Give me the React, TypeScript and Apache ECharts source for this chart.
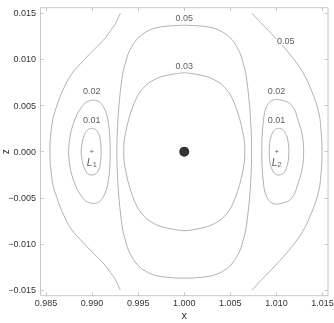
import React, { useEffect, useRef } from "react";
import * as echarts from "echarts";

// Axis ranges and tick labels
const xRange = [0.9844, 1.0156];
const zRange = [-0.0156, 0.0156];
const xTicks = [0.985, 0.99, 0.995, 1.0, 1.005, 1.01, 1.015];
const zTicks = [-0.015, -0.01, -0.005, 0, 0.005, 0.01, 0.015];

// Contour 0.03 (closed around the body)
const c003X = [1.0, 1.0013, 1.00249, 1.00325, 1.00406, 1.00455, 1.00498, 1.00552, 1.00601, 1.00634, 1.00653, 1.00657, 1.00653, 1.00634, 1.00601, 1.00552, 1.00498, 1.00455, 1.00406, 1.00325, 1.00249, 1.0013, 1.0, 0.9987, 0.99751, 0.99675, 0.99594, 0.99545, 0.99502, 0.99448, 0.99399, 0.99366, 0.99347, 0.99343, 0.99347, 0.99366, 0.99399, 0.99448, 0.99502, 0.99545, 0.99594, 0.99675, 0.99751, 0.9987, 1.0];
const c003Z = [0.00856, 0.00839, 0.00812, 0.0078, 0.0073, 0.00677, 0.00622, 0.00504, 0.00357, 0.00217, 0.00108, 0, -0.00108, -0.00217, -0.00357, -0.00504, -0.00622, -0.00677, -0.0073, -0.0078, -0.00812, -0.00839, -0.00856, -0.00839, -0.00812, -0.0078, -0.0073, -0.00677, -0.00622, -0.00504, -0.00357, -0.00217, -0.00108, 0, 0.00108, 0.00217, 0.00357, 0.00504, 0.00622, 0.00677, 0.0073, 0.0078, 0.00812, 0.00839, 0.00856];

// Contour 0.05 (closed around the body)
const c005bX = [1.0, 1.00162, 1.00303, 1.00379, 1.00455, 1.00504, 1.00542, 1.00585, 1.00617, 1.00644, 1.00666, 1.00682, 1.00695, 1.00709, 1.0072, 1.00728, 1.00731,
  1.00728, 1.0072, 1.00709, 1.00695, 1.00682, 1.00666, 1.00644, 1.00617, 1.00585, 1.00542, 1.00504, 1.00455, 1.00379, 1.00303, 1.00162, 1.0,
  0.99838, 0.99697, 0.99621, 0.99545, 0.99496, 0.99458, 0.99415, 0.99383, 0.99356, 0.99334, 0.99318, 0.99305, 0.99291, 0.9928, 0.99272, 0.99269,
  0.99272, 0.9928, 0.99291, 0.99305, 0.99318, 0.99334, 0.99356, 0.99383, 0.99415, 0.99458, 0.99496, 0.99545, 0.99621, 0.99697, 0.99838, 1.0];
const c005bZ = [0.0137, 0.01363, 0.01343, 0.01316, 0.01272, 0.01229, 0.01181, 0.0111, 0.01037, 0.00942, 0.00856, 0.00747, 0.00639, 0.00498, 0.00347, 0.00173, 0,
  -0.00173, -0.00347, -0.00498, -0.00639, -0.00747, -0.00856, -0.00942, -0.01037, -0.0111, -0.01181, -0.01229, -0.01272, -0.01316, -0.01343, -0.01363, -0.0137,
  -0.01363, -0.01343, -0.01316, -0.01272, -0.01229, -0.01181, -0.0111, -0.01037, -0.00942, -0.00856, -0.00747, -0.00639, -0.00498, -0.00347, -0.00173, 0,
  0.00173, 0.00347, 0.00498, 0.00639, 0.00747, 0.00856, 0.00942, 0.01037, 0.0111, 0.01181, 0.01229, 0.01272, 0.01316, 0.01343, 0.01363, 0.0137];

// Contour 0.05 (open, left of L1)
const c005lX = [0.99307, 0.99247, 0.99199, 0.9915, 0.9909, 0.99025, 0.98949, 0.98874, 0.98803, 0.98744, 0.98695, 0.98652, 0.98614, 0.98578, 0.98557, 0.98545, 0.98542,
  0.98545, 0.98557, 0.98578, 0.98614, 0.98652, 0.98695, 0.98744, 0.98803, 0.98874, 0.98949, 0.99025, 0.9909, 0.9915, 0.99199, 0.99247, 0.99307];
const c005lZ = [0.015, 0.01376, 0.01311, 0.0124, 0.01175, 0.0111, 0.01034, 0.00953, 0.00877, 0.00791, 0.00693, 0.00596, 0.00487, 0.00373, 0.00238, 0.00119, 0,
  -0.00119, -0.00238, -0.00373, -0.00487, -0.00596, -0.00693, -0.00791, -0.00877, -0.00953, -0.01034, -0.0111, -0.01175, -0.0124, -0.01311, -0.01376, -0.015];

// Contour 0.05 (open, right of L2)
const c005rX = [1.00737, 1.0078, 1.00829, 1.00883, 1.00942, 1.01007, 1.01072, 1.01137, 1.01197, 1.01256, 1.01311, 1.01359, 1.01403, 1.01441, 1.01471, 1.01484, 1.01493, 1.01495,
  1.01493, 1.01484, 1.01471, 1.01441, 1.01403, 1.01359, 1.01311, 1.01256, 1.01197, 1.01137, 1.01072, 1.01007, 1.00942, 1.00883, 1.00829, 1.0078, 1.00737];
const c005rZ = [0.015, 0.01451, 0.01397, 0.01343, 0.01283, 0.01213, 0.01143, 0.01067, 0.00991, 0.0091, 0.00818, 0.00715, 0.00607, 0.00498, 0.00368, 0.00238, 0.00119, 0,
  -0.00119, -0.00238, -0.00368, -0.00498, -0.00607, -0.00715, -0.00818, -0.0091, -0.00991, -0.01067, -0.01143, -0.01213, -0.01283, -0.01343, -0.01397, -0.01451, -0.015];

// Contour 0.02 around L1
const c002lX = [0.99014, 0.99076, 0.99123, 0.99157, 0.99177, 0.9919, 0.99195, 0.99197, 0.99195, 0.9919, 0.99177, 0.99157, 0.99123, 0.99076, 0.99014, 0.98935, 0.98889, 0.98838, 0.98798, 0.98767, 0.98751, 0.98744, 0.98751, 0.98767, 0.98798, 0.98838, 0.98889, 0.98935, 0.99014];
const c002lZ = [0.0056, 0.00544, 0.00487, 0.00408, 0.00308, 0.00203, 0.00091, 0, -0.00091, -0.00203, -0.00308, -0.00408, -0.00487, -0.00544, -0.0056, -0.00538, -0.00487, -0.00408, -0.00308, -0.00203, -0.00091, 0, 0.00091, 0.00203, 0.00308, 0.00408, 0.00487, 0.00538, 0.0056];

// Contour 0.01 around L1
const c001lX = [0.98997, 0.99033, 0.9906, 0.99079, 0.9909, 0.99096, 0.99098, 0.99096, 0.9909, 0.99079, 0.9906, 0.99033, 0.98997, 0.98961, 0.98935, 0.98914, 0.98897, 0.98887, 0.98881, 0.98887, 0.98897, 0.98914, 0.98935, 0.98961, 0.98997];
const c001lZ = [0.00253, 0.00244, 0.00219, 0.00175, 0.00121, 0.00062, 0, -0.00062, -0.00121, -0.00175, -0.00219, -0.00244, -0.00253, -0.00244, -0.00219, -0.00175, -0.00121, -0.00062, 0, 0.00062, 0.00121, 0.00175, 0.00219, 0.00244, 0.00253];

// Contour 0.02 around L2
const c002rX = [1.01001, 1.01069, 1.01145, 1.01199, 1.01235, 1.01269, 1.01289, 1.01296, 1.01289, 1.01269, 1.01235, 1.01199, 1.01145, 1.01069, 1.01001, 1.00939, 1.00892, 1.00869, 1.00856, 1.00847, 1.00842, 1.00842, 1.00842, 1.00847, 1.00856, 1.00869, 1.00892, 1.00939, 1.01001];
const c002rZ = [0.00568, 0.00555, 0.00524, 0.00452, 0.00343, 0.00235, 0.00127, 0, -0.00127, -0.00235, -0.00343, -0.00452, -0.00524, -0.00555, -0.00568, -0.00549, -0.00487, -0.00408, -0.00308, -0.00203, -0.00091, 0, 0.00091, 0.00203, 0.00308, 0.00408, 0.00487, 0.00549, 0.00568];

// Contour 0.01 around L2
const c001rX = [1.01026, 1.01061, 1.01089, 1.0111, 1.01125, 1.01133, 1.01135, 1.01133, 1.01125, 1.0111, 1.01089, 1.01061, 1.01026, 1.00991, 1.00966, 1.00946, 1.00931, 1.00924, 1.00922, 1.00924, 1.00931, 1.00946, 1.00966, 1.00991, 1.01026];
const c001rZ = [0.00253, 0.00244, 0.00219, 0.00175, 0.00121, 0.00062, 0, -0.00062, -0.00121, -0.00175, -0.00219, -0.00244, -0.00253, -0.00244, -0.00219, -0.00175, -0.00121, -0.00062, 0, 0.00062, 0.00121, 0.00175, 0.00219, 0.00244, 0.00253];

// Contour labels
const labelText = ["0.05", "0.03", "0.05", "0.02", "0.01", "0.02", "0.01"];
const labelX = [1.0, 1.0, 1.01102, 0.98997, 0.98997, 1.01001, 1.01001];
const labelZ = [0.01451, 0.00928, 0.01204, 0.00661, 0.00343, 0.00661, 0.00343];

// Lagrange points and body
const lagrangeIdx = ["1", "2"];
const lagrangeX = [0.98997, 1.01004];
const lagrangeZ = [0, 0];
const bodyX = [1.0];
const bodyZ = [0];

const FONT = "'Liberation Sans', Arial, sans-serif";
const zip = (xs: number[], zs: number[]) => xs.map((x, i) => [x, zs[i]]);
const fmt = (v: number) => (v < -1e-9 ? "\u2212" : "") + Math.abs(v).toFixed(3);

export default function App() {
  const ref = useRef<HTMLDivElement>(null);
  useEffect(() => {
    if (!ref.current) return;
    const chart = echarts.init(ref.current, null, { renderer: "svg" });
    const lineStyle = { color: "#a8a8a8", width: 0.9 };
    const contour = (name: string, xs: number[], zs: number[]) => ({
      type: "line",
      name,
      data: zip(xs, zs),
      showSymbol: false,
      symbol: "none",
      smooth: 0.3,
      lineStyle,
      silent: true,
      z: 2,
    });
    const tick = { show: true, inside: true, length: 3.5, lineStyle: { color: "#bbbbbb", width: 0.8 } };
    const noLine = { show: false, onZero: false };
    const hidden = { show: false };
    chart.setOption({
      animation: false,
      textStyle: { fontFamily: FONT },
      grid: {
        left: 40.5,
        top: 7.7,
        width: 287.5,
        height: 288,
        show: true,
        borderColor: "#c8c8c8",
        borderWidth: 1,
        backgroundColor: "transparent",
        outerBoundsMode: "none",
        containLabel: false,
      },
      xAxis: [
        {
          type: "value",
          min: xRange[0],
          max: xRange[1],
          position: "bottom",
          axisLine: noLine,
          splitLine: hidden,
          axisTick: { ...tick, customValues: xTicks },
          axisLabel: { customValues: xTicks, formatter: (v: number) => fmt(v), fontSize: 9, color: "#333", margin: 3, fontFamily: FONT },
          name: "x",
          nameLocation: "middle",
          nameGap: 14,
          nameMoveOverlap: false,
          nameTextStyle: { fontSize: 11, color: "#333", fontFamily: FONT },
        },
        {
          type: "value",
          min: xRange[0],
          max: xRange[1],
          position: "top",
          axisLine: noLine,
          splitLine: hidden,
          axisTick: { ...tick, customValues: xTicks },
          axisLabel: hidden,
        },
      ],
      yAxis: [
        {
          type: "value",
          min: zRange[0],
          max: zRange[1],
          position: "left",
          axisLine: noLine,
          splitLine: hidden,
          axisTick: { ...tick, customValues: zTicks },
          axisLabel: { customValues: zTicks, formatter: (v: number) => fmt(v), fontSize: 9, color: "#333", margin: 4.5, fontFamily: FONT },
          name: "z",
          nameLocation: "middle",
          nameRotate: 90,
          nameGap: 30,
          nameMoveOverlap: false,
          nameTextStyle: { fontSize: 10, color: "#333", fontFamily: FONT },
        },
        {
          type: "value",
          min: zRange[0],
          max: zRange[1],
          position: "right",
          axisLine: noLine,
          splitLine: hidden,
          axisTick: { ...tick, customValues: zTicks },
          axisLabel: hidden,
        },
      ],
      series: [
        contour("c005-body", c005bX, c005bZ),
        contour("c003", c003X, c003Z),
        contour("c005-left", c005lX, c005lZ),
        contour("c005-right", c005rX, c005rZ),
        contour("c002-L1", c002lX, c002lZ),
        contour("c001-L1", c001lX, c001lZ),
        contour("c002-L2", c002rX, c002rZ),
        contour("c001-L2", c001rX, c001rZ),
        {
          type: "scatter",
          name: "labels",
          data: labelX.map((x, i) => ({ value: [x, labelZ[i]], name: labelText[i] })),
          symbolSize: 1,
          itemStyle: { color: "rgba(0,0,0,0)" },
          silent: true,
          z: 4,
          label: {
            show: true,
            position: "inside",
            formatter: (p: any) => p.name,
            fontSize: 9,
            color: "#333",
            fontFamily: FONT,
            backgroundColor: "#ffffff",
            padding: [0, 1],
          },
        },
        {
          type: "scatter",
          name: "body",
          data: zip(bodyX, bodyZ),
          symbolSize: 10,
          itemStyle: { color: "#000" },
          silent: true,
          z: 5,
        },
        {
          type: "scatter",
          name: "Lplus",
          data: lagrangeX.map((x, i) => ({ value: [x, lagrangeZ[i]], name: lagrangeIdx[i] })),
          symbolSize: 1,
          itemStyle: { color: "rgba(0,0,0,0)" },
          silent: true,
          z: 4,
          label: { show: true, position: "inside", formatter: "+", fontSize: 8, color: "#333", fontFamily: FONT },
        },
        {
          type: "scatter",
          name: "Lname",
          data: lagrangeX.map((x, i) => ({ value: [x, lagrangeZ[i]], name: lagrangeIdx[i] })),
          symbolSize: 1,
          itemStyle: { color: "rgba(0,0,0,0)" },
          silent: true,
          z: 4,
          label: {
            show: true,
            position: "inside",
            offset: [0, 10],
            formatter: (p: any) => `{a|L}{b|${p.name}}`,
            color: "#333",
            fontFamily: FONT,
            rich: {
              a: { fontSize: 10.5, fontStyle: "italic", color: "#333", fontFamily: FONT, lineHeight: 14, verticalAlign: "middle" },
              b: { fontSize: 7.5, color: "#333", fontFamily: FONT, lineHeight: 8, verticalAlign: "bottom" },
            },
          },
        },
      ],
    });
    return () => chart.dispose();
  }, []);
  return <div ref={ref} style={{ position: "fixed", left: 0, top: 0, width: 334, height: 323 }} />;
}
